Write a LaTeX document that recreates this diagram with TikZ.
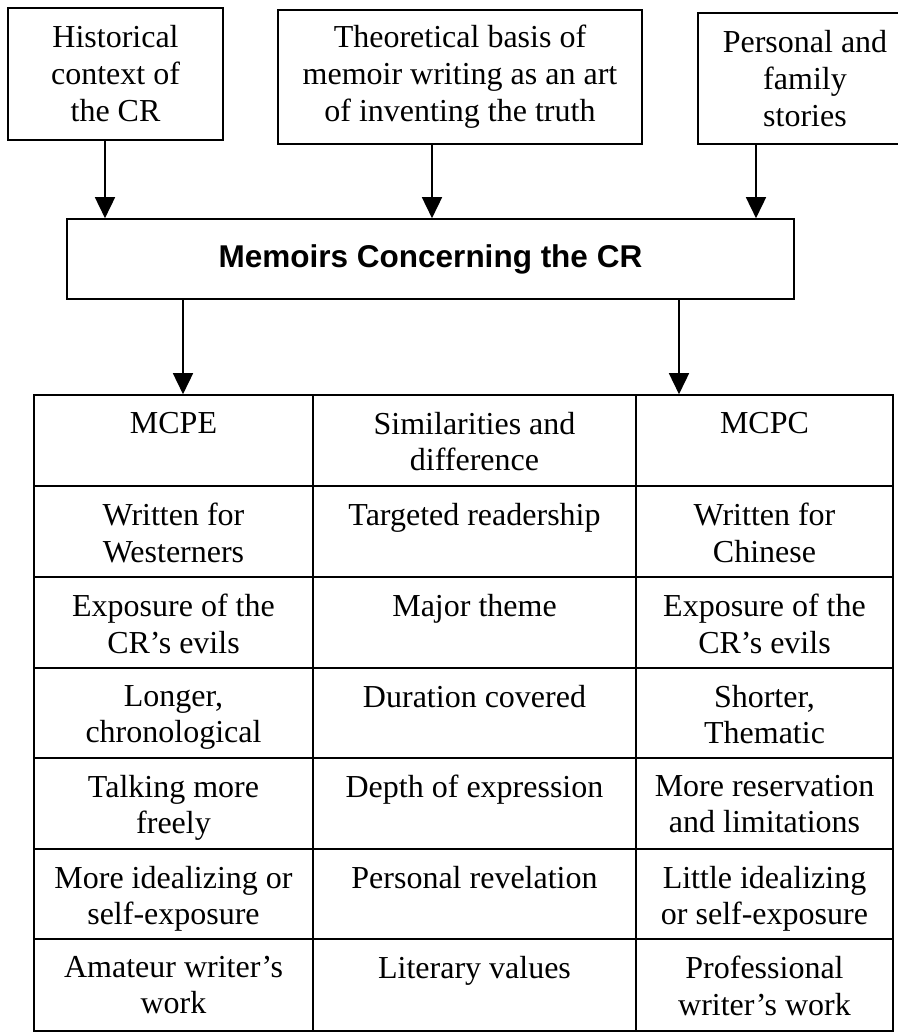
\documentclass[tikz,border=0pt]{standalone}
\usepackage{fontspec}
\setmainfont{Liberation Serif}
\newfontfamily\titlefont{Liberation Sans}
\usetikzlibrary{arrows.meta,calc}
\newcommand\trow[6]{%
  \node[cellbox, minimum width=279pt, minimum height={(#3-#2)*1pt}] (#1a) at (173.5,{(#2+#3)/2}) {};
  \node[cellbox, minimum width=323pt, minimum height={(#3-#2)*1pt}] (#1b) at (474.5,{(#2+#3)/2}) {};
  \node[cellbox, minimum width=257pt, minimum height={(#3-#2)*1pt}] (#1c) at (764.5,{(#2+#3)/2}) {};
  \node[celltext] (#1at) at (173.5,{#2+17}) {#4};
  \node[celltext] (#1bt) at (474.5,{#2+17}) {#5};
  \node[celltext] (#1ct) at (764.5,{#2+17}) {#6};
}
\begin{document}
\begin{tikzpicture}[x=1pt,y=-1pt,
  box/.style={draw, line width=1.6pt, align=center, inner sep=0pt, font=\fontsize{32}{37}\selectfont},
  arr/.style={line width=1.6pt, -{Triangle[width=20pt,length=21pt]}},
  cellbox/.style={draw, line width=1.6pt, inner sep=0pt},
  celltext/.style={align=center, inner sep=0pt, anchor=north, font=\fontsize{32}{36.5}\selectfont}]
\useasboundingbox[fill=white] (0,0) rectangle (897,1033);

\node[box, minimum width=215pt, minimum height=132pt] (h) at (115.5,74) {Historical\\context of\\the CR};
\node[box, minimum width=364pt, minimum height=134pt] (t) at (460,77) {Theoretical basis of\\memoir writing as an art\\of inventing the truth};
\node[box, minimum width=214pt, minimum height=131pt] (p) at (805,78.5) {Personal and\\family\\stories};
\node[box, minimum width=727pt, minimum height=80pt, font=\titlefont\bfseries\fontsize{31.5}{36}\selectfont] (m) at (430.5,259) {Memoirs Concerning the CR};

\coordinate (x1) at (105,0);
\coordinate (x2) at (432,0);
\coordinate (x3) at (756,0);
\coordinate (x4) at (183,0);
\coordinate (x5) at (679,0);

\draw[arr] (h.south -| x1) -- (m.north -| x1);
\draw[arr] (t.south -| x2) -- (m.north -| x2);
\draw[arr] (p.south -| x3) -- (m.north -| x3);

\trow{r0}{395}{486}{MCPE}{Similarities and\\difference}{MCPC}
\trow{r1}{486}{577}{Written for\\Westerners}{Targeted readership}{Written for\\Chinese}
\trow{r2}{577}{668}{Exposure of the\\CR's evils}{Major theme}{Exposure of the\\CR's evils}
\trow{r3}{668}{758}{Longer,\\chronological}{Duration covered}{Shorter,\\Thematic}
\trow{r4}{758}{849}{Talking more\\freely}{Depth of expression}{More reservation\\and limitations}
\trow{r5}{849}{939}{More idealizing or\\self-exposure}{Personal revelation}{Little idealizing\\or self-exposure}
\trow{r6}{939}{1031}{Amateur writer's\\work}{Literary values}{Professional\\writer's work}

\draw[arr] (m.south -| x4) -- (r0a.north -| x4);
\draw[arr] (m.south -| x5) -- (r0c.north -| x5);
\end{tikzpicture}
\end{document}
